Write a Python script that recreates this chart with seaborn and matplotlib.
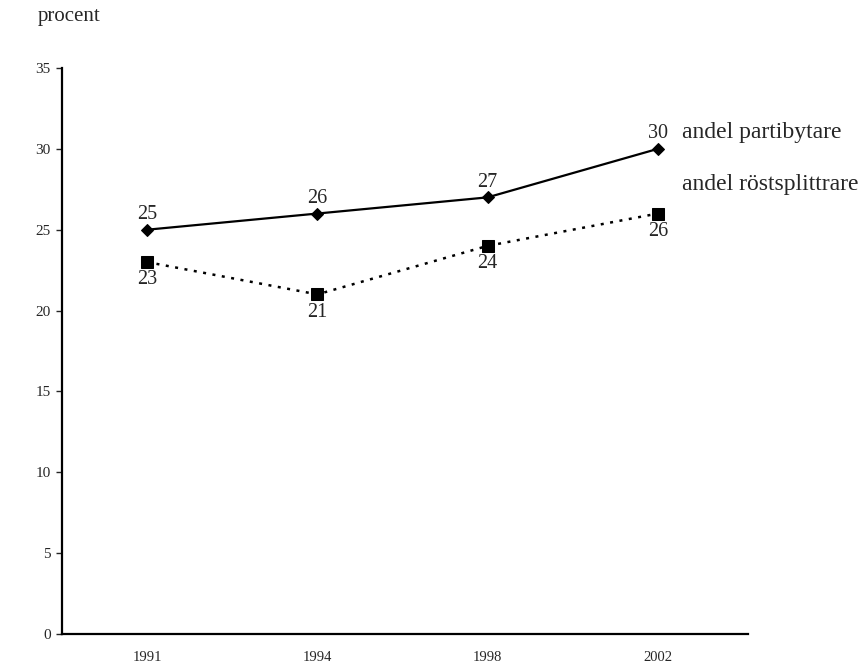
import matplotlib
matplotlib.use("Agg")
import matplotlib.pyplot as plt
import seaborn as sns

years = ["1991", "1994", "1998", "2002"]
partibytare = [25, 26, 27, 30]
rostsplittrare = [23, 21, 24, 26]
partibytare_name = "andel partibytare"
rostsplittrare_name = "andel röstsplittrare"

sns.set_style("ticks")
plt.rcParams['font.family'] = ['Liberation Serif', 'DejaVu Serif']

fig = plt.figure(figsize=(8.66, 6.69), dpi=100)
ax = fig.add_axes([62 / 866, 1 - 634 / 669, (748 - 62) / 866, (634 - 68) / 669])

sns.lineplot(x=years, y=partibytare, ax=ax, color="black", linewidth=1.6,
             marker="D", markersize=6, markeredgecolor="black")
sns.lineplot(x=years, y=rostsplittrare, ax=ax, color="black", linewidth=1.8,
             linestyle=(0, (1.2, 2.6)), marker="s", markersize=8,
             markeredgecolor="black")

# data labels
for i, v in enumerate(partibytare):
    ax.annotate(str(v), (i, v), xytext=(0, 4), textcoords="offset points",
                ha="center", va="bottom", fontsize=14.5)
for i, v in enumerate(rostsplittrare):
    ax.annotate(str(v), (i, v), xytext=(0, -6), textcoords="offset points",
                ha="center", va="top", fontsize=14.5)

# series labels
ax.text(3.14, 31.0, partibytare_name, fontsize=17, va="center", ha="left",
        clip_on=False)
ax.text(3.14, 27.8, rostsplittrare_name, fontsize=17, va="center", ha="left",
        clip_on=False)

ax.set_xlim(-0.5, 3.53)
ax.set_ylim(0, 35)
ax.set_yticks(range(0, 36, 5))
ax.tick_params(axis="y", length=4, width=1, labelsize=11, pad=4)
ax.tick_params(axis="x", length=0, labelsize=10.5, pad=12)
ax.set_xlabel("")
ax.set_ylabel("")
sns.despine(ax=ax)
for s in ["left", "bottom"]:
    ax.spines[s].set_linewidth(1.6)
    ax.spines[s].set_color("black")

fig.text(38 / 866, 1 - 17 / 669, "procent", fontsize=15, va="center", ha="left")

fig.savefig("out.png", dpi=100)
